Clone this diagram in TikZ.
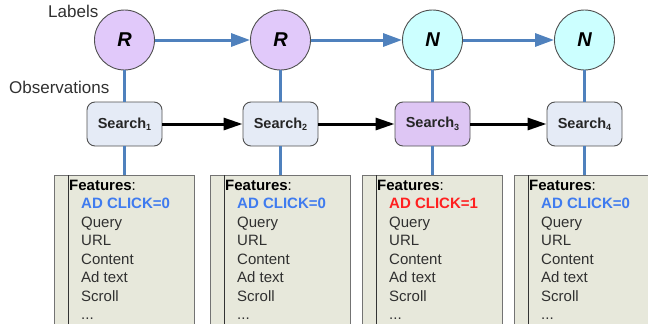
\documentclass[tikz,border=0pt]{standalone}
\usepackage{fontspec}
\setmainfont{Liberation Sans}
\usetikzlibrary{arrows.meta}
\definecolor{lineblue}{HTML}{4F81BD}
\definecolor{bordergray}{HTML}{505050}
\definecolor{lav}{HTML}{E1C9FA}
\definecolor{cyanl}{HTML}{CCFFFF}
\definecolor{sfill}{HTML}{E5EBF6}
\definecolor{sfillb}{HTML}{DEC6F4}
\definecolor{ffill}{HTML}{E7E8DB}
\definecolor{txt}{HTML}{303030}
\definecolor{clickblue}{HTML}{3F7BEF}
\definecolor{clickred}{HTML}{FF2020}
\begin{document}
\begin{tikzpicture}[x=1pt,y=-1pt,
  circ/.style={circle, draw=bordergray, line width=0.9pt, minimum size=60pt, inner sep=0pt,
    font=\fontsize{20}{20}\selectfont\bfseries\itshape, text=black},
  rnode/.style={circ, fill=lav},
  nnode/.style={circ, fill=cyanl},
  sbox/.style={rectangle, rounded corners=8pt, draw=bordergray, line width=0.9pt,
    minimum width=75pt, minimum height=44pt, inner sep=0pt, fill=sfill,
    font=\fontsize{14.5}{14.5}\selectfont\bfseries, text=black!85},
  featbox/.style={rectangle, draw=bordergray!80, line width=1.2pt, fill=ffill,
    minimum width=140pt, minimum height=170pt, inner sep=0pt},
  innerline/.style={draw=black!80, line width=1.2pt},
  ftxt/.style={anchor=base west, inner sep=0pt, font=\fontsize{15}{15}\selectfont, text=txt},
  lbl/.style={anchor=base west, inner sep=0pt, font=\fontsize{17}{17}\selectfont, text=txt},
  blueln/.style={draw=lineblue, line width=3pt},
  bluearr/.style={blueln, -{Triangle[length=19pt,width=13pt]}},
  blackarr/.style={draw=black, line width=3pt, -{Triangle[length=19pt,width=12pt]}}
]
\useasboundingbox (0,0) rectangle (648,324);
\clip (0,0) rectangle (648,324);

\newcommand{\srch}[1]{Search\raisebox{-2.5pt}{\fontsize{9}{9}\selectfont #1}}

% label texts
\node[lbl] (labels) at (48,17) {Labels};
\node[lbl] (obs) at (9,93) {Observations};

% feature boxes
\foreach \i/\cx/\clk/\clkcol in {1/124.5/0/clickblue, 2/280.5/0/clickblue, 3/432.5/1/clickred, 4/584.5/0/clickblue} {
  \pgfmathsetmacro{\lx}{\cx-70}
  \pgfmathsetmacro{\ax}{\cx-56}
  \pgfmathsetmacro{\bx}{\cx-43.5}
  \node[featbox, anchor=north] (f\i) at (\cx,175) {};
  \draw[innerline] (\ax,175) -- (\ax,345);
  \node[ftxt, text=black] (fa\i) at (\ax+0.5,190) {\textbf{Features}:};
  \node[ftxt, text=\clkcol, font=\fontsize{15}{15}\selectfont\bfseries] (fb\i) at (\bx,208.5) {AD CLICK=\clk};
  \node[ftxt] (fc\i) at (\bx,227) {Query};
  \node[ftxt] (fd\i) at (\bx,245.5) {URL};
  \node[ftxt] (fe\i) at (\bx,264) {Content};
  \node[ftxt] (ff\i) at (\bx,282.5) {Ad text};
  \node[ftxt] (fg\i) at (\bx,301) {Scroll};
  \node[ftxt] (fh\i) at (\bx,319.5) {...};
}

% circles
\node[rnode] (c1) at (124.5,40) {R};
\node[rnode] (c2) at (280.5,40) {R};
\node[nnode] (c3) at (432.5,40) {N};
\node[nnode] (c4) at (584.5,40) {N};

% search boxes
\node[sbox] (s1) at (124.5,124) {\srch{1}};
\node[sbox] (s2) at (280.5,124) {\srch{2}};
\node[sbox, fill=sfillb] (s3) at (432.5,124) {\srch{3}};
\node[sbox] (s4) at (584.5,124) {\srch{4}};

% connectors
\foreach \i in {1,2,3,4} {
  \draw[blueln] (c\i) -- (s\i);
  \draw[blueln] (s\i) -- (f\i);
}
\draw[bluearr] (c1) -- (c2);
\draw[bluearr] (c2) -- (c3);
\draw[bluearr] (c3) -- (c4);
\draw[blackarr] (s1) -- (s2);
\draw[blackarr] (s2) -- (s3);
\draw[blackarr] (s3) -- (s4);
\end{tikzpicture}
\end{document}
